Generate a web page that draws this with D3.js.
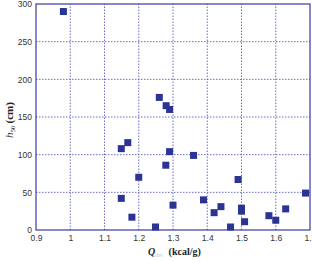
<!DOCTYPE html>
<html><head><meta charset="utf-8">
<script src="https://cdn.jsdelivr.net/npm/d3@7"></script>
<style>body{margin:0;background:#fff}svg{display:block}</style>
</head><body>
<script>
const qValues = [0.98,1.149,1.168,1.20,1.149,1.18,1.249,1.26,1.28,1.29,1.29,1.279,1.36,1.49,1.687,1.389,1.30,1.42,1.44,1.50,1.50,1.509,1.468,1.58,1.60,1.629];
const h50Values = [290,108,116,70,42,17,4,176,165,160,104,86,99,67,49,40,33,23,31,29,25,11,4,19,13,28];
const xTicks = [0.9,1.0,1.1,1.2,1.3,1.4,1.5,1.6,1.7];
const yTicks = [0,50,100,150,200,250,300];
const xTickLabels = ["0.9","1","1.1","1.2","1.3","1.4","1.5","1.6","1.7"];

const W=312,H=261;
const m={l:36,r:2,t:4,b:31};
const svg=d3.select("body").append("svg").attr("width",W).attr("height",H);
const x=d3.scaleLinear().domain([0.9,1.7]).range([m.l,W-m.r]);
const y=d3.scaleLinear().domain([0,300]).range([H-m.b,m.t]);
const blue="#3a3a9a", grid="#6b6bc4";

// grid
svg.append("g").selectAll("line").data(xTicks.slice(1,-1)).join("line")
  .attr("x1",d=>x(d)).attr("x2",d=>x(d)).attr("y1",y(0)).attr("y2",y(300))
  .attr("stroke",grid).attr("stroke-width",1).attr("stroke-dasharray","1.5,1.5");
svg.append("g").selectAll("line").data(yTicks.slice(1,-1)).join("line")
  .attr("y1",d=>y(d)).attr("y2",d=>y(d)).attr("x1",x(0.9)).attr("x2",x(1.7))
  .attr("stroke",grid).attr("stroke-width",1).attr("stroke-dasharray","1.5,1.5");

// frame
svg.append("rect").attr("x",x(0.9)).attr("y",y(300)).attr("width",x(1.7)-x(0.9)).attr("height",y(0)-y(300))
  .attr("fill","none").attr("stroke",blue).attr("stroke-width",1.2);

// axes
const xAxis=svg.append("g").attr("transform",`translate(0,${y(0)})`)
  .call(d3.axisBottom(x).tickValues(xTicks).tickFormat((d,i)=>xTickLabels[i]).tickSize(0).tickPadding(5));
const yAxis=svg.append("g").attr("transform",`translate(${x(0.9)},0)`)
  .call(d3.axisLeft(y).tickValues(yTicks).tickSize(0).tickPadding(4));
[xAxis,yAxis].forEach(g=>{
  g.select(".domain").remove();
  g.selectAll("text").attr("font-family","Liberation Sans, Arial, sans-serif").attr("font-size",8.5).attr("fill","#333");
});

// points
const s=7;
svg.append("g").selectAll("rect").data(qValues.map((q,i)=>[q,h50Values[i]])).join("rect")
  .attr("x",d=>x(d[0])-s/2).attr("y",d=>y(d[1])-s/2).attr("width",s).attr("height",s)
  .attr("fill","#2b3393");

// labels
const xl=svg.append("text").attr("x",148).attr("y",255).attr("font-family","Liberation Serif, Times New Roman, serif")
  .attr("font-size",10).attr("font-weight","bold").attr("fill","#222");
xl.append("tspan").attr("font-style","italic").text("Q");
xl.append("tspan").attr("font-size",6).attr("dy",2).attr("fill","#ccc").attr("font-weight","normal").text("det");
xl.append("tspan").attr("dy",-2).attr("dx",6).text("(kcal/g)");

const yl=svg.append("text").attr("transform","translate(13,138) rotate(-90)").attr("font-family","Liberation Serif, Times New Roman, serif")
  .attr("font-size",11).attr("font-weight","bold").attr("fill","#222");
yl.append("tspan").attr("font-style","italic").attr("font-weight","normal").text("h");
yl.append("tspan").attr("font-size",7).attr("dy",2).attr("font-weight","normal").text("50");
yl.append("tspan").attr("dy",-2).attr("dx",2).text("(cm)");
</script>
</body></html>
